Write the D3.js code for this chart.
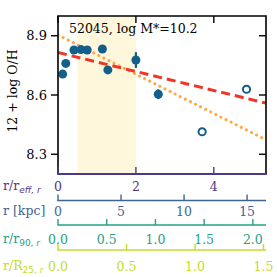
<!DOCTYPE html>
<html><head><meta charset="utf-8">
<script src="https://cdn.jsdelivr.net/npm/d3@7"></script>
<style>body{margin:0;background:#fff}svg{display:block}</style>
</head><body>
<script>
// ---- data ----
const title = "52045, log M*=10.2";
const yLabel = "12 + log O/H";
const filledX = [0.12, 0.20, 0.41, 0.59, 0.75, 1.14, 1.28, 2.00, 2.575];
const filledY = [8.706, 8.760, 8.828, 8.830, 8.828, 8.833, 8.727, 8.777, 8.604];
const filledErr = [0.012, 0.012, 0.012, 0.012, 0.012, 0.012, 0.012, 0.040, 0.025];
const openX = [3.70, 4.84];
const openY = [8.414, 8.629];
const shadeRange = [0.5, 2.0];
const redFit = {intercept: 8.815, slope: -0.048};
const orangeFit = {intercept: 8.904, slope: -0.0994};
const yTicks = [8.3, 8.6, 8.9];
const xTicks = [0, 2, 4];
const kpcTicks = [0, 5, 10, 15];
const r90Ticks = [0.0, 0.5, 1.0, 1.5, 2.0];
const r25Ticks = [0.0, 0.5, 1.0, 1.5];
const xMax = 5.34, kpcMax = 16.5, r90Max = 2.135, r25Max = 1.518;

// ---- layout ----
const W = 277, H = 277;
const L = 58, R = 266, T = 16, B = 174;
const svg = d3.select("body").append("svg").attr("width", W).attr("height", H);
const serif = "DejaVu Serif";
const x = d3.scaleLinear().domain([0, xMax]).range([L, R]);
const y = d3.scaleLinear().domain([8.2, 9.0]).range([B, T]);

const cPurple = "#4e3889", cBlue = "#3d6592", cTeal = "#25a085", cYel = "#c3dc2a";
const cPt = "#135f8c";

svg.append("defs").append("clipPath").attr("id", "clip")
  .append("rect").attr("x", L).attr("y", T).attr("width", R - L).attr("height", B - T);

// shade
svg.append("rect").attr("x", x(shadeRange[0])).attr("y", T)
  .attr("width", x(shadeRange[1]) - x(shadeRange[0])).attr("height", B - T)
  .attr("fill", "#fff7dc");

const g = svg.append("g").attr("clip-path", "url(#clip)");
// fits
const fitLine = f => [[0, f.intercept], [xMax, f.intercept + f.slope * xMax]];
g.append("path").datum(fitLine(orangeFit))
  .attr("d", d3.line().x(d => x(d[0])).y(d => y(d[1])))
  .attr("stroke", "#ffa845").attr("stroke-width", 3).attr("fill", "none")
  .attr("stroke-dasharray", "0.1 5.6").attr("stroke-linecap", "round");
g.append("path").datum(fitLine(redFit))
  .attr("d", d3.line().x(d => x(d[0])).y(d => y(d[1])))
  .attr("stroke", "#ee3526").attr("stroke-width", 3).attr("fill", "none")
  .attr("stroke-dasharray", "9 5");

// error bars
const pts = filledX.map((v, i) => ({x: v, y: filledY[i], e: filledErr[i]}));
g.selectAll(".eb").data(pts).enter().append("line")
  .attr("x1", d => x(d.x)).attr("x2", d => x(d.x))
  .attr("y1", d => y(d.y - d.e)).attr("y2", d => y(d.y + d.e))
  .attr("stroke", cPt).attr("stroke-width", 2.2);
g.selectAll(".fp").data(pts).enter().append("circle")
  .attr("cx", d => x(d.x)).attr("cy", d => y(d.y)).attr("r", 4.5).attr("fill", cPt);
g.selectAll(".op").data(openX.map((v, i) => ({x: v, y: openY[i]}))).enter().append("circle")
  .attr("cx", d => x(d.x)).attr("cy", d => y(d.y)).attr("r", 3.6)
  .attr("fill", "none").attr("stroke", cPt).attr("stroke-width", 2);

// frame
svg.append("path").attr("d", `M${L},${B}V${T}H${R}V${B}`).attr("fill", "none")
  .attr("stroke", "#000").attr("stroke-width", 1.6);
svg.append("line").attr("x1", L - 0.8).attr("x2", R + 0.8).attr("y1", B).attr("y2", B)
  .attr("stroke", cPurple).attr("stroke-width", 1.8);

// y ticks
const yAx = svg.append("g");
yTicks.forEach(t => {
  yAx.append("line").attr("x1", L - 7).attr("x2", L).attr("y1", y(t)).attr("y2", y(t)).attr("stroke", "#000").attr("stroke-width", 1.4);
  yAx.append("line").attr("x1", R - 7).attr("x2", R).attr("y1", y(t)).attr("y2", y(t)).attr("stroke", "#000").attr("stroke-width", 1.4);
  yAx.append("text").attr("x", L - 11).attr("y", y(t)).attr("dy", "0.36em")
    .attr("text-anchor", "end").attr("font-family", serif).attr("font-size", 13).text(t.toFixed(1));
});
// x ticks (top inward black, bottom inward purple)
xTicks.forEach(t => {
  svg.append("line").attr("x1", x(t)).attr("x2", x(t)).attr("y1", T).attr("y2", T + 7).attr("stroke", "#000").attr("stroke-width", 1.4);
  svg.append("line").attr("x1", x(t)).attr("x2", x(t)).attr("y1", B).attr("y2", B - 7).attr("stroke", cPurple).attr("stroke-width", 1.4);
  svg.append("text").attr("x", x(t)).attr("y", 191).attr("text-anchor", "middle")
    .attr("font-family", serif).attr("font-size", 12.5).attr("fill", cPurple).text(t);
});

// title
svg.append("text").attr("x", 69).attr("y", 32.5).attr("font-family", serif).attr("font-size", 12.5).text(title);
// y label
svg.append("text").attr("transform", "translate(17,91) rotate(-90)").attr("text-anchor", "middle")
  .attr("font-family", serif).attr("font-size", 12.5).text(yLabel);

// secondary axes
function secAxis(lineY, max, ticks, fmt, color, labelY) {
  const s = d3.scaleLinear().domain([0, max]).range([L, R]);
  svg.append("line").attr("x1", L - 0.7).attr("x2", R).attr("y1", lineY).attr("y2", lineY)
    .attr("stroke", color).attr("stroke-width", 1.6);
  ticks.forEach(t => {
    svg.append("line").attr("x1", s(t)).attr("x2", s(t)).attr("y1", lineY).attr("y2", lineY - 6)
      .attr("stroke", color).attr("stroke-width", 1.4);
    svg.append("text").attr("x", s(t)).attr("y", labelY).attr("text-anchor", "middle")
      .attr("font-family", serif).attr("font-size", 12.5).attr("fill", color).text(fmt(t));
  });
}
secAxis(200.5, kpcMax, kpcTicks, d => d, cBlue, 216);
secAxis(225, r90Max, r90Ticks, d => d.toFixed(1), cTeal, 244);
secAxis(250, r25Max, r25Ticks, d => d.toFixed(1), cYel, 271);

// axis name labels with subscripts: parts = [text, style] where style: 'main' | 'sub' | 'subit'
function nameLabel(yb, color, parts) {
  const t = svg.append("text").attr("x", 3).attr("y", yb).attr("font-family", serif)
    .attr("font-size", 12.5).attr("fill", color);
  let lowered = false;
  parts.forEach(([s, kind]) => {
    const sp = t.append("tspan").text(s);
    if (kind !== "main") {
      sp.attr("font-size", 9).attr("font-family", "DejaVu Sans");
      if (kind === "subit") sp.attr("font-style", "italic");
      if (!lowered) { sp.attr("dy", 2.5); lowered = true; }
    }
  });
}
nameLabel(190, cPurple, [["r/r", "main"], ["eff, r", "subit"]]);
nameLabel(215, cBlue, [["r [kpc]", "main"]]);
nameLabel(243, cTeal, [["r/r", "main"], ["90, ", "sub"], ["r", "subit"]]);
nameLabel(270, cYel, [["r/R", "main"], ["25, ", "sub"], ["r", "subit"]]);
</script>
</body></html>
